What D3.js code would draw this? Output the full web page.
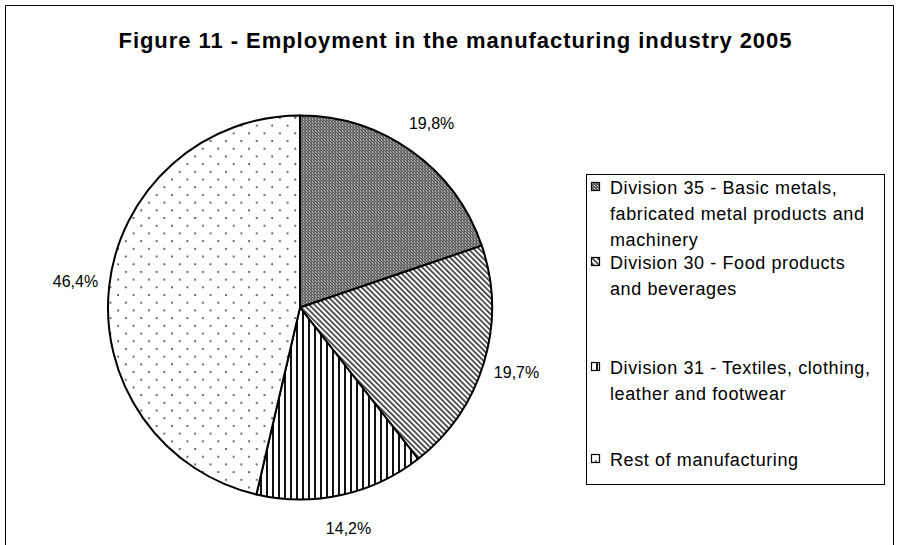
<!DOCTYPE html>
<html>
<head>
<meta charset="utf-8">
<script src="https://cdn.jsdelivr.net/npm/d3@7"></script>
<style>
  body { margin: 0; background: #fff; }
  text { font-family: "Liberation Sans", Arial, sans-serif; fill: #000; }
</style>
</head>
<body>
<div id="viz"></div>
<script>
var width = 903,
    height = 545;

var title = 'Figure 11 - Employment in the manufacturing industry 2005';

// slices clockwise from 12 o'clock
var categories = ['div35', 'div30', 'div31', 'rest'];
var shares = [19.8, 19.7, 14.2, 46.4];
var valueLabels = ['19,8%', '19,7%', '14,2%', '46,4%'];
var legendLines = [
  ['Division 35 - Basic metals,', 'fabricated metal products and', 'machinery'],
  ['Division 30 - Food products', 'and beverages'],
  ['Division 31 - Textiles, clothing,', 'leather and footwear'],
  ['Rest of manufacturing']
];

var cx = 300, cy = 307.5, radius = 192;

var svg = d3.select('#viz').append('svg')
  .attr('width', width)
  .attr('height', height);

svg.append('rect').attr('width', width).attr('height', height).attr('fill', '#fff');

// fill patterns
var defs = svg.append('defs');

var p1 = defs.append('pattern').attr('id', 'pat-div35')
  .attr('patternUnits', 'userSpaceOnUse').attr('width', 3).attr('height', 3);
p1.append('rect').attr('width', 3).attr('height', 3).attr('fill', '#555');
p1.append('rect').attr('width', 1).attr('height', 1).attr('fill', '#fff');
p1.append('rect').attr('x', 1).attr('y', 1).attr('width', 1).attr('height', 1).attr('fill', '#bbb');
p1.append('rect').attr('x', 2).attr('y', 2).attr('width', 1).attr('height', 1).attr('fill', '#888');

var p2 = defs.append('pattern').attr('id', 'pat-div30')
  .attr('patternUnits', 'userSpaceOnUse').attr('width', 3.8).attr('height', 6)
  .attr('patternTransform', 'rotate(-45)');
p2.append('rect').attr('width', 3.8).attr('height', 6).attr('fill', '#fff');
p2.append('rect').attr('width', 1.6).attr('height', 6).attr('fill', '#333');

var p3 = defs.append('pattern').attr('id', 'pat-div31')
  .attr('patternUnits', 'userSpaceOnUse').attr('width', 6).attr('height', 6);
p3.append('rect').attr('width', 6).attr('height', 6).attr('fill', '#fff');
p3.append('rect').attr('x', 2).attr('width', 2).attr('height', 6).attr('fill', '#111');

var p4 = defs.append('pattern').attr('id', 'pat-rest')
  .attr('patternUnits', 'userSpaceOnUse').attr('width', 15.4).attr('height', 15.4);
p4.append('rect').attr('width', 15.4).attr('height', 15.4).attr('fill', '#fff');
p4.append('circle').attr('cx', 3).attr('cy', 3).attr('r', 1).attr('fill', '#444');
p4.append('circle').attr('cx', 10.7).attr('cy', 10.7).attr('r', 1).attr('fill', '#444');

var fill = d3.scaleOrdinal()
  .domain(categories)
  .range(categories.map(function(c) { return 'url(#pat-' + c + ')'; }));

// outer frame (bottom edge runs off the picture)
svg.append('path')
  .attr('d', 'M5.5,' + (height + 2) + 'V5.5H893.5V' + (height + 2))
  .attr('fill', 'none')
  .attr('stroke', '#000')
  .attr('stroke-width', 1);

// title
svg.append('text')
  .attr('x', 455)
  .attr('y', 48)
  .attr('text-anchor', 'middle')
  .attr('textLength', 673)
  .attr('lengthAdjust', 'spacing')
  .style('font-size', '22px')
  .style('font-weight', 'bold')
  .text(title);

// pie
var data = categories.map(function(c, i) { return { key: c, value: shares[i], label: valueLabels[i] }; });

var pie = d3.pie().sort(null).value(function(d) { return d.value; });
var arc = d3.arc().innerRadius(0).outerRadius(radius);
var labelArc = d3.arc().innerRadius(226).outerRadius(226);

var chart = svg.append('g').attr('transform', 'translate(' + cx + ',' + cy + ')');

chart.selectAll('path.slice')
  .data(pie(data))
  .join('path')
  .attr('class', 'slice')
  .attr('d', arc)
  .attr('fill', function(d) { return fill(d.data.key); })
  .attr('stroke', '#000')
  .attr('stroke-width', 2)
  .attr('stroke-linejoin', 'round');

chart.selectAll('text.pct')
  .data(pie(data))
  .join('text')
  .attr('class', 'pct')
  .attr('transform', function(d) { return 'translate(' + labelArc.centroid(d) + ')'; })
  .attr('text-anchor', 'middle')
  .attr('dy', '0.35em')
  .style('font-size', '16px')
  .text(function(d) { return d.data.label; });

// legend
var legend = svg.append('g').attr('class', 'legend');
legend.append('rect')
  .attr('x', 586.5).attr('y', 174.5)
  .attr('width', 298).attr('height', 310)
  .attr('fill', '#fff')
  .attr('stroke', '#000')
  .attr('stroke-width', 1);

var itemTop = [194, 269, 374, 466];
var lineGap = 26;

var items = legend.selectAll('g.item')
  .data(categories)
  .join('g')
  .attr('class', 'item')
  .attr('transform', function(d, i) { return 'translate(0,' + itemTop[i] + ')'; });

items.append('rect')
  .attr('x', 591.5).attr('y', -11.5)
  .attr('width', 8).attr('height', 8)
  .attr('fill', function(d) { return fill(d); })
  .attr('stroke', '#000')
  .attr('stroke-width', 1.2);

items.append('text')
  .attr('x', 610)
  .style('font-size', '18px')
  .style('letter-spacing', '0.6px')
  .selectAll('tspan')
  .data(function(d, i) { return legendLines[i]; })
  .join('tspan')
  .attr('x', 610)
  .attr('y', function(d, j) { return j * lineGap; })
  .text(function(d) { return d; });
</script>
</body>
</html>
